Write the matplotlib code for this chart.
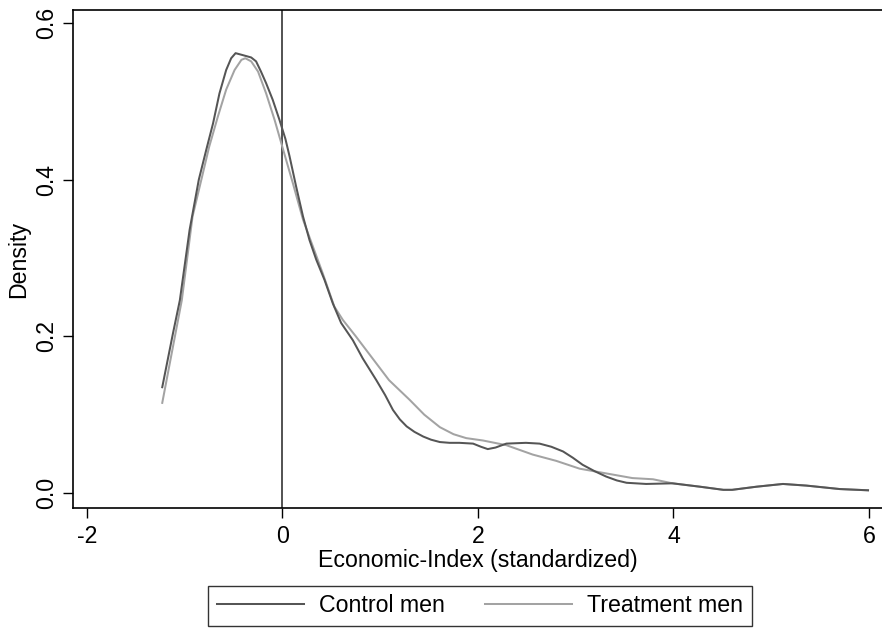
import matplotlib
matplotlib.use("Agg")
import matplotlib.pyplot as plt

plt.rcParams['font.family'] = ['Liberation Sans', 'DejaVu Sans']

# Control men density curve
control_x = [-1.23, -1.12, -1.05, -0.95, -0.856, -0.78, -0.71, -0.645, -0.576, -0.525,
             -0.48, -0.406, -0.32, -0.27, -0.22, -0.167, -0.10, -0.03, 0.03, 0.072,
             0.14, 0.21, 0.276, 0.345, 0.43, 0.515, 0.60, 0.72, 0.82, 0.96,
             1.05, 1.13, 1.20, 1.27, 1.35, 1.44, 1.52, 1.61, 1.71, 1.81,
             1.95, 2.03, 2.10, 2.18, 2.29, 2.49, 2.63, 2.75, 2.87, 2.97,
             3.07, 3.19, 3.31, 3.42, 3.52, 3.72, 3.99, 4.27, 4.51, 4.60,
             4.85, 5.12, 5.36, 5.70, 5.99]
control_y = [0.135, 0.204, 0.246, 0.336, 0.400, 0.438, 0.472, 0.510, 0.540, 0.555,
             0.5615, 0.559, 0.556, 0.551, 0.538, 0.523, 0.502, 0.476, 0.452, 0.430,
             0.391, 0.353, 0.323, 0.298, 0.272, 0.242, 0.217, 0.195, 0.172, 0.144,
             0.125, 0.106, 0.094, 0.085, 0.078, 0.072, 0.068, 0.065, 0.064, 0.064,
             0.063, 0.059, 0.056, 0.058, 0.063, 0.064, 0.063, 0.059, 0.053, 0.045,
             0.036, 0.028, 0.021, 0.016, 0.013, 0.0115, 0.0123, 0.008, 0.004, 0.004,
             0.008, 0.0115, 0.0094, 0.005, 0.0034]

# Treatment men density curve
treat_x = [-1.23, -1.03, -0.92, -0.83, -0.75, -0.66, -0.576, -0.49, -0.42, -0.38,
           -0.32, -0.25, -0.167, -0.08, 0.003, 0.105, 0.21, 0.31, 0.41, 0.53,
           0.617, 0.75, 0.92, 1.09, 1.30, 1.45, 1.61, 1.75, 1.88, 2.05,
           2.29, 2.56, 2.80, 3.04, 3.31, 3.58, 3.79, 3.99, 4.27, 4.51,
           4.60, 4.85, 5.12, 5.36, 5.70, 5.99]
treat_y = [0.115, 0.246, 0.353, 0.400, 0.442, 0.481, 0.515, 0.540, 0.553, 0.555,
           0.551, 0.538, 0.510, 0.476, 0.440, 0.396, 0.349, 0.315, 0.281, 0.238,
           0.221, 0.200, 0.172, 0.144, 0.119, 0.100, 0.084, 0.075, 0.070, 0.067,
           0.061, 0.049, 0.041, 0.031, 0.025, 0.019, 0.0175, 0.0123, 0.008, 0.004,
           0.004, 0.008, 0.0115, 0.0094, 0.005, 0.0034]

x_ticks = [-2, 0, 2, 4, 6]
y_ticks = [0.0, 0.2, 0.4, 0.6]
y_tick_labels = ['0.0', '0.2', '0.4', '0.6']

FS = 16.7

fig = plt.figure(figsize=(8.82, 6.28), dpi=100)
ax = fig.add_axes([73/882, (628-508)/628, 1 - 73/882, (508-10)/628])

ax.axvline(0, color='#444444', lw=1.3, zorder=1)
ax.plot(control_x, control_y, color='#555555', lw=1.45, label='Control men',
        zorder=3, solid_joinstyle='round')
ax.plot(treat_x, treat_y, color='#a3a3a3', lw=1.45, label='Treatment men',
        zorder=2, solid_joinstyle='round')

ax.set_xlim(-2.143, 6.133)
ax.set_ylim(-0.0192, 0.6166)
ax.set_xticks(x_ticks)
ax.set_xticklabels([str(t) for t in x_ticks])
ax.set_yticks(y_ticks)
ax.set_yticklabels(y_tick_labels, rotation=90, va='center')

for s in ['left', 'bottom', 'top']:
    ax.spines[s].set_linewidth(1.2)
    ax.spines[s].set_color('black')
ax.spines['right'].set_visible(False)

ax.tick_params(axis='both', length=7, width=1.0, labelsize=FS)
ax.tick_params(axis='x', pad=5)
ax.tick_params(axis='y', pad=4)
ax.set_xlabel('Economic-Index (standardized)', fontsize=FS, labelpad=1)
ax.set_ylabel('Density', fontsize=FS, labelpad=3)

leg = fig.legend(loc='center', bbox_to_anchor=(480/882, (628-606)/628), ncol=2,
                 fontsize=FS, frameon=True, fancybox=False, edgecolor='black',
                 handlelength=3.75, handletextpad=0.65, columnspacing=1.72,
                 borderpad=0.38)
leg.get_frame().set_linewidth(1.0)

fig.savefig('out.png', dpi=100)
